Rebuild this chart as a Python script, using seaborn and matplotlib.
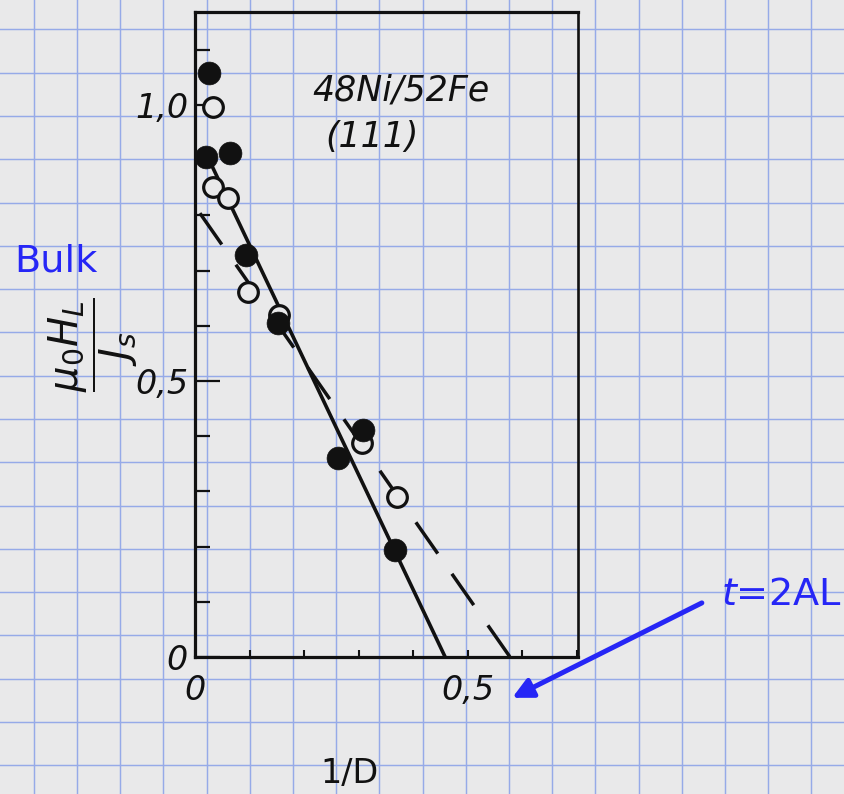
import numpy as np
import pandas as pd
import matplotlib
matplotlib.use("Agg")
import matplotlib.pyplot as plt
from matplotlib.ticker import MultipleLocator, FixedLocator, FixedFormatter
import seaborn as sns

# Reduced anisotropy field versus inverse thickness, 48Ni/52Fe (111)
filled_x = [0.026, 0.020, 0.064, 0.094, 0.153, 0.262, 0.308, 0.367]
filled_y = [1.058, 0.906, 0.913, 0.729, 0.605, 0.361, 0.411, 0.194]

open_x = [0.033, 0.033, 0.061, 0.097, 0.155, 0.306, 0.371]
open_y = [0.996, 0.851, 0.832, 0.661, 0.620, 0.388, 0.290]

# straight-line fits through each set
fit_solid_x = [0.018, 0.459]
fit_solid_y = [0.917, 0.0]
fit_dashed_x = [0.009, 0.578]
fit_dashed_y = [0.804, 0.0]

y_tick_vals = [0.0, 0.5, 1.0]
y_tick_text = ["0", "0,5", "1,0"]
x_tick_vals = [0.0, 0.5]
x_tick_text = ["0", "0,5"]

PAPER = "#e9e9ea"
GRID = "#96aae8"
INK = "#111111"
BLUE = "#2626f6"

W, H = 844, 794
fig = plt.figure(figsize=(W / 100, H / 100), dpi=100, facecolor=PAPER)

# graph-paper background
bg = fig.add_axes([0, 0, 1, 1], zorder=0)
bg.set_xlim(0, W)
bg.set_ylim(H, 0)
bg.set_facecolor(PAPER)
bg.axis("off")
for gx in np.arange(163.3 - 43.2 * 4, W + 1, 43.2):
    bg.axvline(gx, color=GRID, lw=1.05)
for gy in np.arange(29.3, H + 1, 43.3):
    bg.axhline(gy, color=GRID, lw=1.05)

# data axes
left, right, top, bottom = 195, 578, 12, 657
ax = fig.add_axes([left / W, 1 - bottom / H, (right - left) / W, (bottom - top) / H], zorder=1)
ax.patch.set_alpha(0)

df_f = pd.DataFrame({"x": filled_x, "y": filled_y})
df_o = pd.DataFrame({"x": open_x, "y": open_y})
df_s = pd.DataFrame({"x": fit_solid_x, "y": fit_solid_y})
df_d = pd.DataFrame({"x": fit_dashed_x, "y": fit_dashed_y})

sns.lineplot(data=df_s, x="x", y="y", ax=ax, color=INK, lw=2.6, estimator=None,
             sort=False, zorder=2)
sns.lineplot(data=df_d, x="x", y="y", ax=ax, color=INK, lw=2.5, estimator=None,
             sort=False, zorder=2, dashes=False)
ax.lines[-1].set_linestyle((0, (11, 7.1)))

sns.scatterplot(data=df_o, x="x", y="y", ax=ax, s=200, marker="o", facecolor=PAPER,
                edgecolor=INK, linewidth=2.3, zorder=3)
sns.scatterplot(data=df_f, x="x", y="y", ax=ax, s=270, marker="o", color=INK,
                edgecolor=INK, linewidth=0.5, zorder=4)

ax.set_xlim(0, (right - left) / 545)
ax.set_ylim(0, (bottom - top) / 552)

for side in ["left", "bottom", "top"]:
    ax.spines[side].set_linewidth(2.3)
    ax.spines[side].set_color(INK)
ax.spines["right"].set_linewidth(1.9)
ax.spines["right"].set_color(INK)

ax.yaxis.set_major_locator(FixedLocator(y_tick_vals))
ax.yaxis.set_major_formatter(FixedFormatter(y_tick_text))
ax.yaxis.set_minor_locator(MultipleLocator(0.1))
ax.xaxis.set_major_locator(FixedLocator(x_tick_vals))
ax.xaxis.set_major_formatter(FixedFormatter(x_tick_text))
ax.xaxis.set_minor_locator(MultipleLocator(0.1))

ax.tick_params(axis="y", which="major", direction="in", length=18, width=1.6,
               color=INK, pad=5)
ax.tick_params(axis="y", which="minor", direction="in", length=11, width=1.6, color=INK)
ax.tick_params(axis="x", which="both", direction="in", length=5, width=1.5,
               color=INK, pad=12)
for lab in ax.get_xticklabels() + ax.get_yticklabels():
    lab.set_fontfamily("DejaVu Sans")
    lab.set_fontstyle("italic")
    lab.set_fontsize(24)
    lab.set_color(INK)

ax.set_xlabel("1/D", fontsize=24, color=INK)
ax.xaxis.set_label_coords((350 - left) / (right - left), (bottom - 757) / (bottom - top))

ax.set_ylabel(r"$\dfrac{\mu_0 H_L}{J_s}$", fontsize=29, color=INK)
ax.yaxis.label.set_va("center")
ax.yaxis.set_label_coords((93 - left) / (right - left), (bottom - 345) / (bottom - top))

ax.text(0.378, 1.027, "48Ni/52Fe", fontsize=25, style="italic", color=INK,
        ha="center", va="center")
ax.text(0.325, 0.942, "(111)", fontsize=25, style="italic", color=INK,
        ha="center", va="center")

# blue annotations
plt.rcParams["mathtext.fontset"] = "dejavusans"
fig.text(14 / W, 1 - 271 / H, "Bulk", fontsize=27.5, color=BLUE,
         ha="left", va="baseline")
fig.text(721 / W, 1 - 605 / H, r"$t$=2AL", fontsize=27.5, color=BLUE,
         ha="left", va="baseline")
ax.annotate("", xy=(0.582, -0.074), xytext=(0.930, 0.098),
            xycoords="data", textcoords="data", annotation_clip=False,
            arrowprops=dict(arrowstyle="-|>", color=BLUE, lw=3.6,
                            mutation_scale=30, shrinkA=0, shrinkB=0))

fig.savefig("out.png", dpi=100, facecolor=PAPER)
